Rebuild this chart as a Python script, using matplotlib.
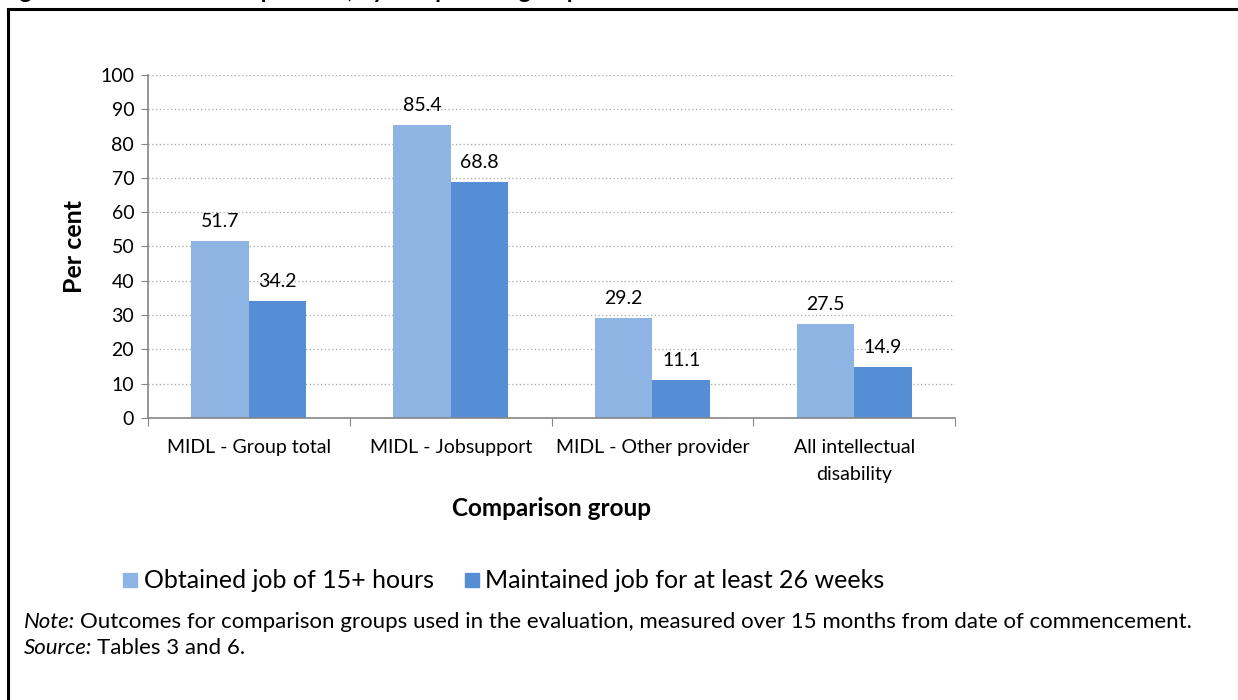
import matplotlib.pyplot as plt
import numpy as np
from matplotlib.lines import Line2D

# Data
groups = ["MIDL - Group total", "MIDL - Jobsupport", "MIDL - Other provider",
          "All intellectual\ndisability"]
obtained = [51.7, 85.4, 29.2, 27.5]
maintained = [34.2, 68.8, 11.1, 14.9]
series_names = ["Obtained job of 15+ hours", "Maintained job for at least 26 weeks"]
yticks = list(range(0, 101, 10))

LIGHT = "#8EB4E3"
DARK = "#558ED5"
AXIS_GREY = "#868686"

plt.rcParams["font.family"] = ["Lato", "DejaVu Sans"]

fig = plt.figure(figsize=(12.38, 7.0), dpi=100)
ax = fig.add_axes([0.1196, 0.4029, 0.6519, 0.49])

x = np.arange(len(groups))
w = 0.285
b1 = ax.bar(x - w / 2, obtained, w, color=LIGHT, label=series_names[0])
b2 = ax.bar(x + w / 2, maintained, w, color=DARK, label=series_names[1])

for bars in (b1, b2):
    for rect in bars:
        ax.annotate(f"{rect.get_height():.1f}",
                    (rect.get_x() + rect.get_width() / 2, rect.get_height()),
                    xytext=(0, 8), textcoords="offset points",
                    ha="center", va="bottom", fontsize=14)

ax.set_xlim(-0.5, len(groups) - 0.5)
ax.set_ylim(0, 100)
ax.set_yticks(yticks)
ax.tick_params(axis="y", labelsize=14, length=5, color=AXIS_GREY, pad=5)

# category labels between boundary ticks
ax.set_xticks(np.arange(-0.5, len(groups), 1.0))
ax.set_xticklabels([])
ax.set_xticks(x, minor=True)
ax.set_xticklabels(groups, minor=True, fontsize=14, va="top", linespacing=1.75)
ax.tick_params(axis="x", which="major", length=6, color=AXIS_GREY)
ax.tick_params(axis="x", which="minor", length=0, pad=15)

ax.grid(axis="y", linestyle=(0, (1, 2)), color="#A6A6A6", linewidth=0.9)
ax.set_axisbelow(True)
for side in ("top", "right"):
    ax.spines[side].set_visible(False)
for side in ("left", "bottom"):
    ax.spines[side].set_color(AXIS_GREY)
    ax.spines[side].set_linewidth(1.2)

ax.set_ylabel("Per cent", fontsize=18, fontweight="bold", labelpad=10)
ax.set_xlabel("Comparison group", fontsize=17.5, fontweight="bold", labelpad=10)

# legend below the plot
handles = [Line2D([], [], marker="s", linestyle="none", markersize=9.5,
                  markerfacecolor=c, markeredgecolor=c) for c in (LIGHT, DARK)]
fig.legend(handles, series_names, loc="center left", bbox_to_anchor=(0.077, 0.17),
           ncol=2, frameon=False, fontsize=18, handletextpad=0.05,
           columnspacing=1.0, handlelength=1.0)

# note and source: italic lead-in followed by plain text
note_size = 16
renderer = fig.canvas.get_renderer()
for y, lead, body in [(0.112, "Note:", "Outcomes for comparison groups used in the evaluation, "
                       "measured over 15 months from date of commencement."),
                      (0.075, "Source:", "Tables 3 and 6.")]:
    t = fig.text(0.019, y, lead, fontsize=note_size, style="italic", va="center")
    bb = t.get_window_extent(renderer).transformed(fig.transFigure.inverted())
    fig.text(bb.x1 + 0.004, y, body, fontsize=note_size, va="center")

# title mostly cropped off the top edge
fig.text(0.0, 0.9965, "Figure 1: Outcome rates per cent, by comparison group",
         fontsize=17, fontweight="bold", va="bottom", ha="left")

# surrounding frame
frame = dict(color="black", linewidth=2.2, transform=fig.transFigure)
fig.add_artist(Line2D([0.0065, 1.0], [0.9865, 0.9865], **frame))
fig.add_artist(Line2D([0.0065, 0.0065], [0.0, 0.9865], **frame))

fig.savefig("out.png", dpi=100)
plt.close(fig)
